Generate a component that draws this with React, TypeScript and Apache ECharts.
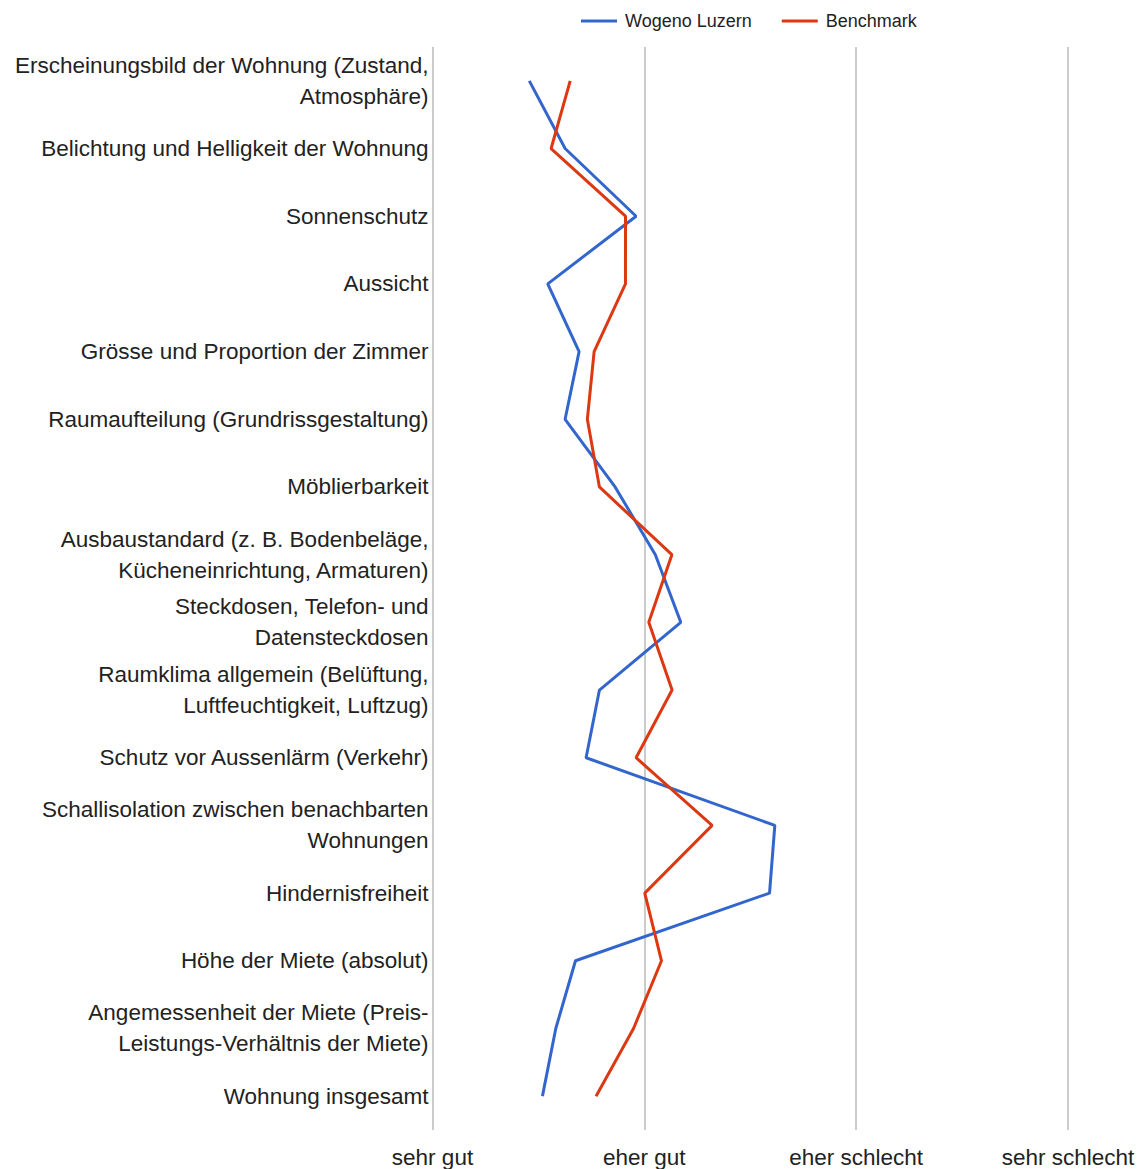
import React, { useEffect, useRef } from "react";
import * as echarts from "echarts";

const categories: string[] = [
  "Erscheinungsbild der Wohnung (Zustand,\nAtmosphäre)",
  "Belichtung und Helligkeit der Wohnung",
  "Sonnenschutz",
  "Aussicht",
  "Grösse und Proportion der Zimmer",
  "Raumaufteilung (Grundrissgestaltung)",
  "Möblierbarkeit",
  "Ausbaustandard (z. B. Bodenbeläge,\nKücheneinrichtung, Armaturen)",
  "Steckdosen, Telefon- und\nDatensteckdosen",
  "Raumklima allgemein (Belüftung,\nLuftfeuchtigkeit, Luftzug)",
  "Schutz vor Aussenlärm (Verkehr)",
  "Schallisolation zwischen benachbarten\nWohnungen",
  "Hindernisfreiheit",
  "Höhe der Miete (absolut)",
  "Angemessenheit der Miete (Preis-\nLeistungs-Verhältnis der Miete)",
  "Wohnung insgesamt",
];

const wogenoLuzern: number[] = [
  1.457, 1.626, 1.961, 1.544, 1.692, 1.626, 1.862, 2.052, 2.172, 1.788, 1.725,
  2.616, 2.591, 1.675, 1.582, 1.519,
];

const benchmark: number[] = [
  1.65, 1.56, 1.911, 1.911, 1.763, 1.731, 1.788, 2.13, 2.021, 2.131, 1.961,
  2.32, 2.002, 2.081, 1.949, 1.772,
];

const xTickLabels: string[] = ["sehr gut", "eher gut", "eher schlecht", "sehr schlecht"];

const FONT = "'Liberation Sans', Arial, sans-serif";

export default function App() {
  const ref = useRef<HTMLDivElement>(null);

  useEffect(() => {
    document.body.style.margin = "0";
    if (!ref.current) return;
    const chart = echarts.init(ref.current, undefined, { renderer: "svg" });
    chart.setOption({
      animation: false,
      backgroundColor: "#ffffff",
      textStyle: { fontFamily: FONT },
      legend: {
        left: 576,
        top: 7,
        itemWidth: 36,
        itemHeight: 3,
        itemGap: 30,
        icon: "rect",
        textStyle: { fontSize: 18, color: "#222", fontFamily: FONT, padding: [0, 0, 0, 3] },
        data: ["Wogeno Luzern", "Benchmark"],
      },
      grid: { left: 432.5, right: 73, top: 47, bottom: 39, containLabel: false },
      xAxis: {
        type: "value",
        min: 1,
        max: 4,
        interval: 1,
        axisLine: { show: false },
        axisTick: { show: false },
        splitLine: { show: true, lineStyle: { color: "#cccccc", width: 2 } },
        axisLabel: {
          fontSize: 22.5,
          color: "#222",
          fontFamily: FONT,
          margin: 16,
          formatter: (v: number) => xTickLabels[Math.round(v) - 1] ?? "",
        },
      },
      yAxis: {
        type: "category",
        inverse: true,
        boundaryGap: true,
        data: categories,
        axisLine: { show: false },
        axisTick: { show: false },
        splitLine: { show: false },
        axisLabel: {
          fontSize: 22.5,
          lineHeight: 31,
          color: "#222",
          fontFamily: FONT,
          margin: 4,
          align: "right",
          interval: 0,
        },
      },
      series: [
        {
          name: "Wogeno Luzern",
          type: "line",
          data: wogenoLuzern,
          showSymbol: false,
          symbol: "none",
          color: "#3366cc",
          lineStyle: { color: "#3366cc", width: 3 },
        },
        {
          name: "Benchmark",
          type: "line",
          data: benchmark,
          showSymbol: false,
          symbol: "none",
          color: "#dc3912",
          lineStyle: { color: "#dc3912", width: 3 },
        },
      ],
    });
    return () => chart.dispose();
  }, []);

  return <div ref={ref} style={{ width: 1141, height: 1169 }} />;
}
